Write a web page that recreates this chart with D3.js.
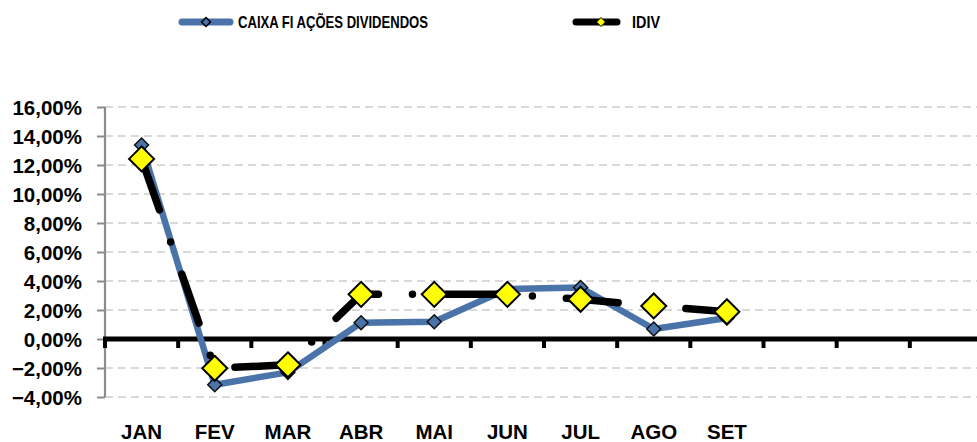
<!DOCTYPE html>
<html>
<head>
<meta charset="utf-8">
<script src="https://cdn.jsdelivr.net/npm/d3@7"></script>
<style>
  html, body { margin: 0; padding: 0; background: #fff; }
  svg { display: block; }
</style>
</head>
<body>
<svg id="chart" width="977" height="442"></svg>
<script>
const months = ["JAN","FEV","MAR","ABR","MAI","JUN","JUL","AGO","SET","OUT","NOV","DEZ"];
const monthLabels = ["JAN","FEV","MAR","ABR","MAI","JUN","JUL","AGO","SET","","",""];
const caixaValues = [13.38, -3.15, -2.3, 1.12, 1.19, 3.45, 3.55, 0.69, 1.45];
const idivValues = [12.42, -2.02, -1.78, 3.08, 3.08, 3.08, 2.74, 2.28, 1.88];
const yTicks = [-4, -2, 0, 2, 4, 6, 8, 10, 12, 14, 16];
const seriesNames = ["CAIXA FI AÇÕES DIVIDENDOS", "IDIV"];

const svg = d3.select("#chart");
const pLeft = 105, pRight = 983, pTop = 107, pBottom = 397;
const x = d3.scaleBand().domain(months).range([pLeft, pRight]).padding(0);
const y = d3.scaleLinear().domain([-4, 16]).range([pBottom, pTop]);
const fmt = v => d3.format(".2f")(v).replace(".", ",") + "%";
const cx = m => x(m) + x.bandwidth() / 2;

// gridlines
svg.append("g").selectAll("line").data(yTicks.filter(t => t !== 0)).join("line")
  .attr("x1", pLeft).attr("x2", 977)
  .attr("y1", d => y(d)).attr("y2", d => y(d))
  .attr("stroke", "#d9d9d9").attr("stroke-width", 2)
  .attr("stroke-dasharray", "8,5");

// y axis
const yAxis = d3.axisLeft(y).tickValues(yTicks).tickFormat(fmt).tickSize(8).tickPadding(15);
const gy = svg.append("g").attr("transform", `translate(${pLeft},0)`).call(yAxis);
gy.select(".domain").attr("stroke", "#8c8c8c").attr("stroke-width", 2.2).attr("d", `M0,${pTop}V${pBottom}`);
gy.selectAll(".tick line").attr("stroke", "#8c8c8c").attr("stroke-width", 2);
gy.selectAll(".tick text")
  .attr("font-family", "'Liberation Sans', Arial, sans-serif")
  .attr("font-weight", "bold").attr("font-size", 20.5).attr("fill", "#000")
  .attr("dy", "0.36em");

// x axis at zero
const xAxis = d3.axisBottom(x).tickFormat((d, i) => monthLabels[i]).tickSize(0);
const gx = svg.append("g").attr("transform", `translate(0,${y(0)})`).call(xAxis);
gx.select(".domain").remove();
gx.selectAll(".tick text")
  .attr("font-family", "'Liberation Sans', Arial, sans-serif")
  .attr("font-weight", "bold").attr("font-size", 20.5).attr("fill", "#000")
  .attr("y", 100).attr("dy", 0);
// boundary tick marks
const bounds = months.map(m => x(m)).concat([pRight]);
svg.append("g").selectAll("line").data(bounds).join("line")
  .attr("x1", d => d).attr("x2", d => d)
  .attr("y1", y(0)).attr("y2", y(0) + 9)
  .attr("stroke", "#000").attr("stroke-width", 4);
svg.append("line").attr("x1", pLeft - 2).attr("x2", 977)
  .attr("y1", y(0)).attr("y2", y(0)).attr("stroke", "#000").attr("stroke-width", 5);

const line = d3.line().x((d, i) => cx(months[i])).y(d => y(d));
const diamond = (s) => `M0,${-s}L${s},0L0,${s}L${-s},0Z`;

// CAIXA series
svg.append("path").attr("d", line(caixaValues))
  .attr("fill", "none").attr("stroke", "#4a73a9").attr("stroke-width", 6.5)
  .attr("stroke-linejoin", "round").attr("stroke-linecap", "round");
svg.append("g").selectAll("path").data(caixaValues).join("path")
  .attr("transform", (d, i) => `translate(${cx(months[i])},${y(d)})`)
  .attr("d", diamond(7))
  .attr("fill", "#4a73a9").attr("stroke", "#111").attr("stroke-width", 1.5);

// IDIV series
svg.append("path").attr("d", line(idivValues))
  .attr("fill", "none").attr("stroke", "#000").attr("stroke-width", 7.5)
  .attr("stroke-linejoin", "round").attr("stroke-linecap", "round")
  .attr("stroke-dasharray", "52,34,0,34").attr("stroke-dashoffset", -2);
svg.append("g").selectAll("path").data(idivValues).join("path")
  .attr("transform", (d, i) => `translate(${cx(months[i])},${y(d)})`)
  .attr("d", diamond(12.5))
  .attr("fill", "#ffff00").attr("stroke", "#000").attr("stroke-width", 2);

// legend
const lg = svg.append("g");
lg.append("line").attr("x1", 182).attr("x2", 230).attr("y1", 22).attr("y2", 22)
  .attr("stroke", "#4a73a9").attr("stroke-width", 7).attr("stroke-linecap", "round");
lg.append("path").attr("transform", "translate(206,22)").attr("d", diamond(4.5))
  .attr("fill", "#4a73a9").attr("stroke", "#000").attr("stroke-width", 1.5);
lg.append("text").attr("x", 238).attr("y", 28).text(seriesNames[0])
  .attr("font-family", "'Liberation Sans Narrow', 'Liberation Sans', Arial, sans-serif")
  .attr("font-weight", "bold").attr("font-size", 16.5)
  .attr("textLength", 190).attr("lengthAdjust", "spacingAndGlyphs");
lg.append("line").attr("x1", 576).attr("x2", 617).attr("y1", 22).attr("y2", 22)
  .attr("stroke", "#000").attr("stroke-width", 7).attr("stroke-linecap", "round");
lg.append("path").attr("transform", "translate(601,22)").attr("d", diamond(4.5))
  .attr("fill", "#ffff00").attr("stroke", "#000").attr("stroke-width", 1);
lg.append("text").attr("x", 632).attr("y", 28).text(seriesNames[1])
  .attr("font-family", "'Liberation Sans Narrow', 'Liberation Sans', Arial, sans-serif")
  .attr("font-weight", "bold").attr("font-size", 16.5)
  .attr("textLength", 28).attr("lengthAdjust", "spacingAndGlyphs");
</script>
</body>
</html>
